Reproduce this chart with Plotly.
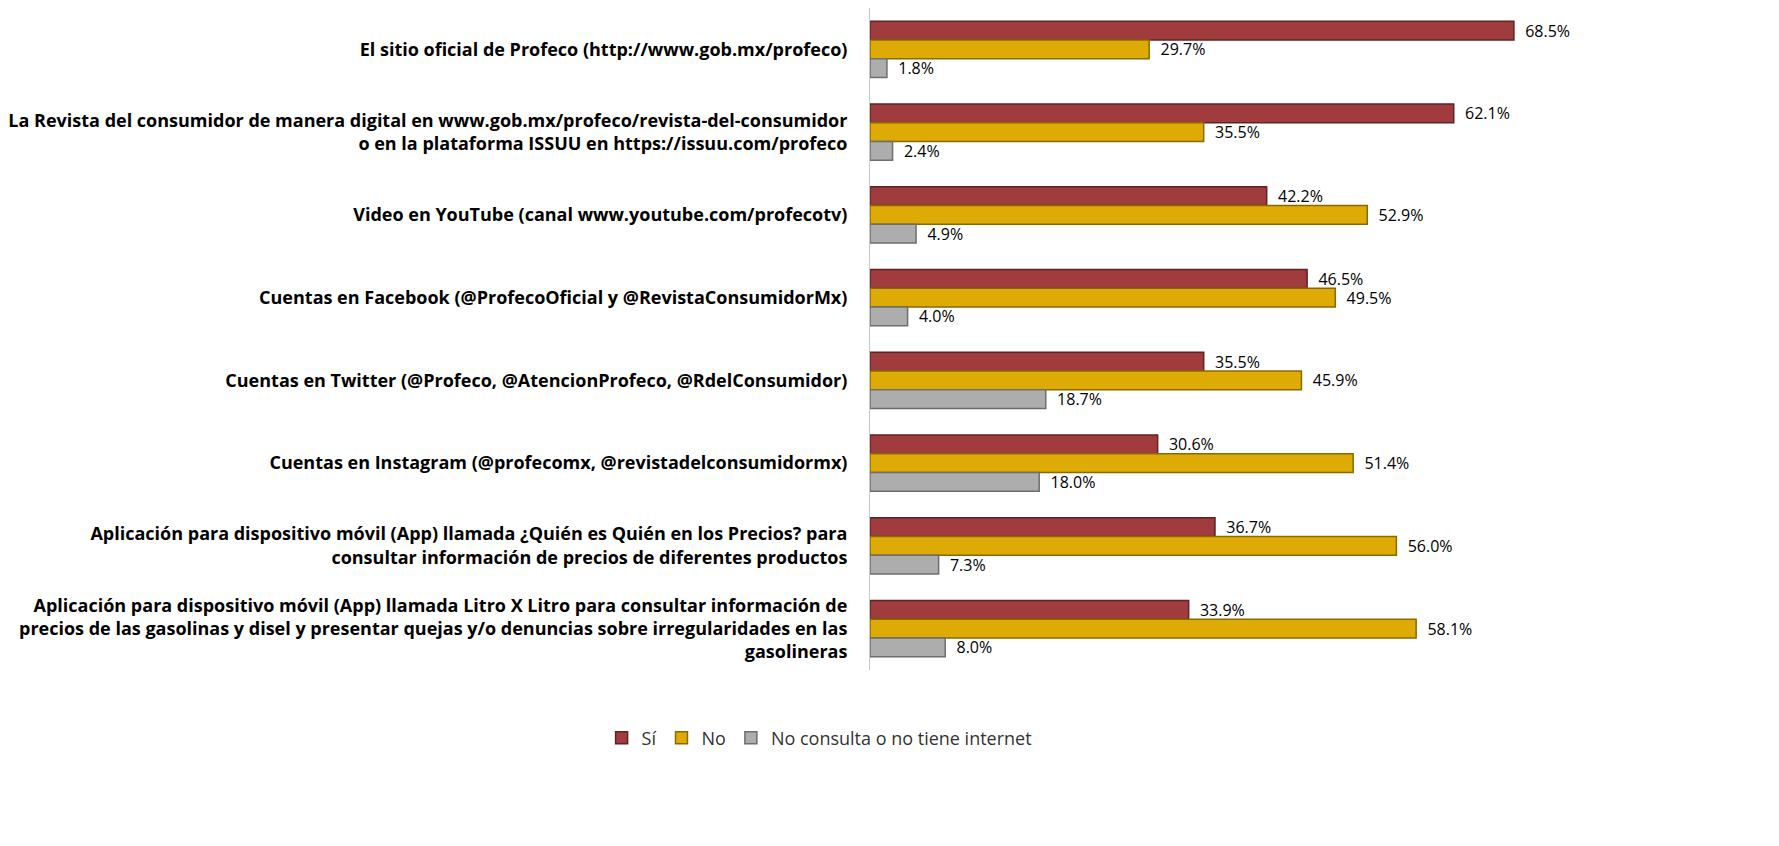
import plotly.graph_objects as go

categories = [
    "El sitio oficial de Profeco (http://www.gob.mx/profeco)",
    "La Revista del consumidor de manera digital en www.gob.mx/profeco/revista-del-consumidor<br>o en la plataforma ISSUU en https://issuu.com/profeco",
    "Video en YouTube (canal www.youtube.com/profecotv)",
    "Cuentas en Facebook (@ProfecoOficial y @RevistaConsumidorMx)",
    "Cuentas en Twitter (@Profeco, @AtencionProfeco, @RdelConsumidor)",
    "Cuentas en Instagram (@profecomx, @revistadelconsumidormx)",
    "Aplicación para dispositivo móvil (App) llamada ¿Quién es Quién en los Precios? para<br>consultar información de precios de diferentes productos",
    "Aplicación para dispositivo móvil (App) llamada Litro X Litro para consultar información de<br>precios de las gasolinas y disel y presentar quejas y/o denuncias sobre irregularidades en las<br>gasolineras",
]
si = [68.5, 62.1, 42.2, 46.5, 35.5, 30.6, 36.7, 33.9]
no = [29.7, 35.5, 52.9, 49.5, 45.9, 51.4, 56.0, 58.1]
no_consulta = [1.8, 2.4, 4.9, 4.0, 18.7, 18.0, 7.3, 8.0]
series_names = ["Sí", "No", "No consulta o no tiene internet"]

colors = ["#A03C3D", "#DDAA06", "#ADADAD"]
lines = ["#5E2324", "#8A6A00", "#6E6E6E"]
FONT = "Open Sans, Lato, sans-serif"

fig = go.Figure()
for name, vals, c, lc in zip(series_names, [si, no, no_consulta], colors, lines):
    fig.add_trace(go.Bar(
        y=categories, x=vals, name=name, orientation="h",
        marker=dict(color=c, line=dict(color=lc, width=1.5)),
        text=[f"  {v:.1f}%" for v in vals], textposition="outside",
        constraintext="none",
        textfont=dict(family=FONT, size=16, color="#000000"),
        cliponaxis=False,
    ))

fig.update_layout(
    width=1779, height=846,
    barmode="group", bargap=0.32, bargroupgap=0.0,
    plot_bgcolor="white", paper_bgcolor="white",
    margin=dict(l=858, r=165, t=0, b=184),
    font=dict(family=FONT, color="#000000"),
    xaxis=dict(range=[0, 80], visible=False, showgrid=False, zeroline=False),
    yaxis=dict(autorange="reversed", showline=True, linecolor="#C8C8C8", linewidth=1,
               ticks="", ticklen=0, showgrid=False,
               tickfont=dict(family=FONT, size=18, color="#000000", weight="bold")),
    legend=dict(orientation="h", x=-0.067, xanchor="center", y=-0.075, yanchor="top",
                font=dict(family=FONT, size=18, color="#333333"),
                itemwidth=30, traceorder="normal"),
    showlegend=True,
)
fig.update_yaxes(ticklabelstandoff=18)

fig.write_html("out.html")
